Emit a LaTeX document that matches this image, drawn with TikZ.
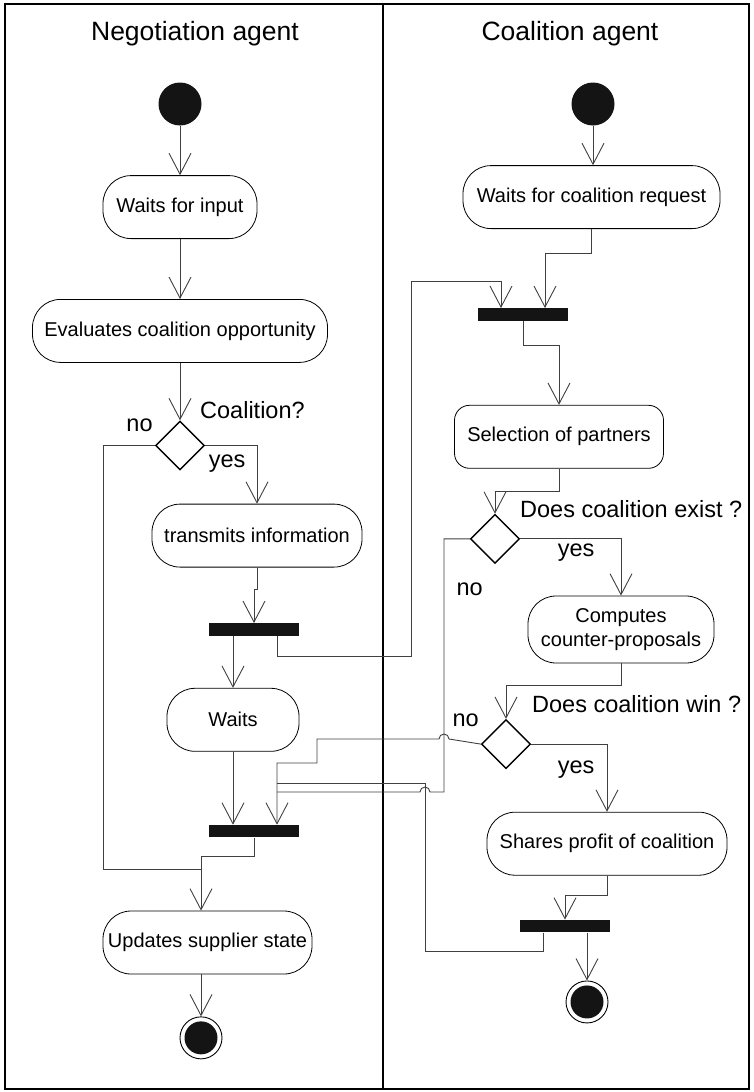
\documentclass[tikz,border=0pt]{standalone}
\usepackage{fontspec}
\setmainfont{Liberation Sans}
\usepackage{tikz}
\usetikzlibrary{arrows.meta,positioning,shapes.geometric}

\begin{document}
\begin{tikzpicture}[x=1pt,y=-1pt,
  font=\fontsize{20}{24}\selectfont, >={Straight Barb[length=21pt,width=22pt]},
  act/.style={draw,line width=0.8pt,rounded corners=28pt,minimum height=63pt,inner xsep=4pt,align=center},
  bar/.style={fill=black!92,minimum width=90pt,minimum height=12.5pt,inner sep=0pt},
  dec/.style={draw,diamond,line width=1.4pt,minimum width=49pt,minimum height=49pt,inner sep=0pt},
  ini/.style={circle,fill=black!92,minimum size=43pt,inner sep=0pt},
  fin/.style={circle,draw,line width=0.9pt,minimum size=42pt,inner sep=0pt,
    path picture={\fill[black!92] (path picture bounding box.center) circle (16.5pt);}},
  lbl/.style={font=\fontsize{23.5}{28}\selectfont,inner sep=0pt},
  ttl/.style={font=\fontsize{26.5}{32}\selectfont},
  lane/.style={line width=1.6pt},
  fl/.style={draw=black!75,line width=0.9pt}]
\useasboundingbox (0,0) rectangle (753,1092);
% swimlanes
\draw[lane] (5,4) rectangle (749,1089);
\draw[lane] (383,4) -- (383,1089);
\node[ttl,anchor=base] (hNeg) at (195,40) {Negotiation agent};
\node[ttl,anchor=base] (hCoa) at (570,40) {Coalition agent};
% negotiation agent lane
\node[ini] (s1) at (180,104) {};
\node[act,minimum width=154pt,below=49.5pt of s1] (wi) {Waits for input};
\node[act,minimum width=295pt,below=60pt of wi] (ev) {Evaluates coalition opportunity};
\node[dec,below=57.5pt of ev] (d1) {};
\node[act,minimum width=210pt,below=33pt of d1,xshift=77pt] (tr) {transmits information};
\node[bar,below=55.5pt of tr,xshift=-3pt] (b1) {};
\node[act,minimum width=132pt,below=52pt of b1,xshift=-21pt] (wt) {Waits};
\node[bar,below=73pt of wt,xshift=21pt] (b3) {};
\node[act,minimum width=209pt,below=73pt of b3,xshift=-46.5pt] (up) {Updates supplier state};
\node[fin,below=42pt of up,xshift=-6.5pt] (e1) {};
\node[lbl,anchor=west] (q1) at ([xshift=20pt,yshift=10pt]d1.north) {Coalition?};
\node[lbl,anchor=east] (n1) at ([xshift=-2pt,yshift=20pt]d1.west) {no};
\node[lbl,anchor=west] (y1) at ([xshift=3.5pt,yshift=-18pt]d1.east) {yes};
% coalition agent lane
\node[ini] (s2) at (593,104) {};
\node[act,minimum width=257pt,below=39.5pt of s2,xshift=-1.5pt] (wc) {Waits for coalition request};
\node[bar,below=79pt of wc,xshift=-68.5pt] (b2) {};
\node[act,minimum width=209pt,rounded corners=15pt,below=84pt of b2,xshift=36pt] (sel) {Selection of partners};
\node[dec,below=45pt of sel,xshift=-64pt] (d2) {};
\node[act,minimum width=186pt,minimum height=67pt,below=31.5pt of d2,xshift=126pt] (cp) {Computes\\counter-proposals};
\node[dec,below=55.5pt of cp,xshift=-115pt] (d3) {};
\node[act,minimum width=240pt,below=42.5pt of d3,xshift=101pt] (sh) {Shares profit of coalition};
\node[bar,below=44pt of sh,xshift=-42pt] (b4) {};
\node[fin,below=48pt of b4,xshift=22pt] (e2) {};
\node[lbl,anchor=west] (q2) at ([xshift=25pt,yshift=4.5pt]d2.north) {Does coalition exist ?};
\node[lbl,anchor=west] (y2) at ([xshift=37.5pt,yshift=-14pt]d2.east) {yes};
\node[lbl,anchor=west] (n2) at ([xshift=-13.5pt,yshift=-50pt]d2.west) {no};
\node[lbl,anchor=west] (q3) at ([xshift=26pt,yshift=14.5pt]d3.north) {Does coalition win ?};
\node[lbl,anchor=west] (n3) at ([xshift=-28.5pt,yshift=24pt]d3.west) {no};
\node[lbl,anchor=west] (y3) at ([xshift=26.5pt,yshift=-26pt]d3.east) {yes};
% flows, negotiation lane
\draw[fl,->] (s1) -- (wi);
\draw[fl,->] (wi) -- (ev);
\draw[fl,->] (ev) -- (d1);
\draw[fl,->] (d1.east) -| (tr.north);
\draw[fl,->] (tr.south) |- (254,589) -- (b1.north);
\draw[fl,->] (b1.south -| wt.north) -- (wt.north);
\draw[fl,->] ([xshift=23pt]b1.south) |- (411,656) |- (501,281) -- ([xshift=-22pt]b2.north);
\draw[fl,->] (wt.south) -- (wt.south |- b3.north);
\coordinate (inU) at ([xshift=-6.5pt]up.north);
\draw[fl,->] (b3.south) |- (inU |- 0,856) -- (inU);
\draw[fl] (d1.west) -| (103,869) -- (inU |- 0,869);
\draw[fl,->] (inU |- up.south) -- (e1);
% flows, coalition lane
\draw[fl,->] (s2) -- (s2 |- wc.north);
\draw[fl,->] (wc.south) |- (545,253) -- ([xshift=22pt]b2.north);
\draw[fl,->] (b2.south) |- (559,345) -- (sel.north);
\draw[fl,->] (sel.south) |- (495,491) -- (d2.north);
\draw[fl,->] (d2.east) -| (cp.north);
\draw[fl,->] (cp.south) |- (506,685) -- (d3.north);
\draw[fl,->] (d3.east) -| (sh.north);
\draw[fl,->] (sh.south) |- (565,895) -- (b4.north);
\draw[fl,->] ([xshift=22pt]b4.south) -- (e2);
% back into the lower join bar
\coordinate (in3) at ([xshift=23pt]b3.north);
\draw[fl,->] (d3.west) -- (449,739) arc[start angle=0,end angle=180,radius=5pt] -- (317,739) |- (in3 |- 0,763) -- (in3);
\draw[fl] (d2.west) -| (444,792) -- (430,792) arc[start angle=0,end angle=180,radius=5pt] -- (in3 |- 0,792);
\draw[fl] ([xshift=-22pt]b4.south) |- (425,951) |- (in3 |- 0,783);
\end{tikzpicture}
\end{document}
